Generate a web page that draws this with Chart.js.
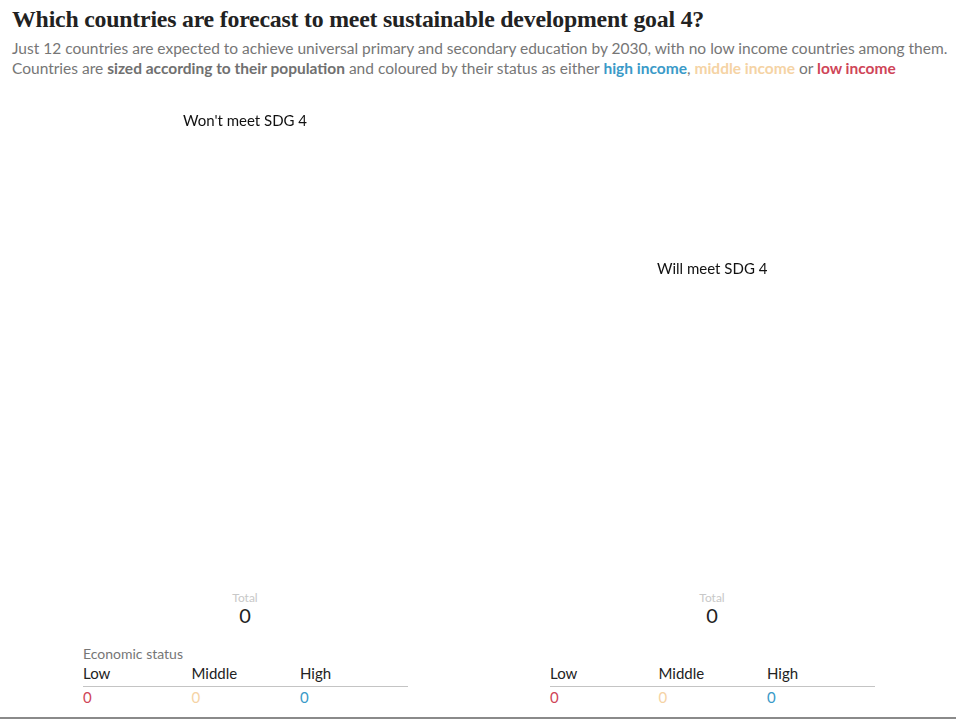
<!DOCTYPE html>
<html>
<head>
<meta charset="utf-8">
<script src="https://cdn.jsdelivr.net/npm/chart.js@4.4.0/dist/chart.umd.min.js"></script>
<style>
  html, body { margin: 0; padding: 0; background: #fff; }
  body { width: 956px; height: 720px; position: relative; overflow: hidden; font-family: Lato, "Noto Sans", sans-serif; }
  h1 { position: absolute; left: 12px; top: 6px; margin: 0; font-family: "Liberation Serif", serif; font-weight: bold; font-size: 23.8px; color: #222; white-space: nowrap; letter-spacing: -0.2px; }
  .sub { position: absolute; left: 12px; top: 38px; margin: 0; font-size: 15.5px; line-height: 20px; color: #767676; white-space: nowrap; }
  .sub b { font-weight: bold; color: #707070; }
  .hi { color: #3a9ac8; font-weight: bold; }
  .mid { color: #f5d3a4; font-weight: bold; }
  .lo { color: #cf4558; font-weight: bold; }
  #wrap { position: absolute; left: 0; top: 90px; width: 956px; height: 500px; }
  .abs { position: absolute; white-space: nowrap; }
  .grp { font-size: 15px; color: #111; }
  .tot { font-size: 12px; color: #c8c8c8; transform: translateX(-50%); }
  .totn { font-size: 20px; color: #222; transform: translateX(-50%); }
  .econ { font-size: 14px; color: #767676; }
  .lvl { font-size: 15px; color: #222; }
  .rule { position: absolute; height: 1px; background: #c4c4c4; }
  .cnt { font-size: 15px; }
  #bottom { position: absolute; left: 0; top: 717px; width: 956px; height: 2px; background: #8a8a8a; }
</style>
</head>
<body>
<h1>Which countries are forecast to meet sustainable development goal 4?</h1>
<p class="sub">Just 12 countries are expected to achieve universal primary and secondary education by 2030, with no low income countries among them.<br>Countries are <b>sized according to their population</b> and coloured by their status as either <span class="hi">high income</span>, <span class="mid">middle income</span> or <span class="lo">low income</span></p>
<div id="wrap"><canvas id="myChart"></canvas></div>
<div id="labels"></div>
<div id="bottom"></div>
<script>
// groups and income levels
const groups = ["Won't meet SDG 4", "Will meet SDG 4"];
const incomeLevels = ['Low', 'Middle', 'High'];
const incomeColours = ['#cf4558', '#f5d3a4', '#3a9ac8'];

// countries per group (none drawn in the picture)
const wontMeetCountries = [];
const willMeetCountries = [];

// counts per income level, per group
const wontMeetCounts = [0, 0, 0];
const willMeetCounts = [0, 0, 0];

var ctx = document.getElementById('myChart').getContext('2d');

const data = {
  datasets: incomeLevels.map((lvl, i) => ({
    label: lvl,
    data: wontMeetCountries.concat(willMeetCountries).filter(c => c.income === lvl),
    backgroundColor: incomeColours[i],
    borderWidth: 0
  }))
};

const config = {
  type: 'bubble',
  data: data,
  options: {
    responsive: true,
    maintainAspectRatio: false,
    animation: false,
    plugins: {
      legend: { display: false },
      tooltip: { enabled: false }
    },
    scales: {
      x: { display: false, min: 0, max: 2 },
      y: { display: false, min: 0, max: 1 }
    }
  }
};

var myChart = new Chart(ctx, config);

// text blocks under each group
const box = document.getElementById('labels');
function add(cls, text, x, y, colour) {
  const d = document.createElement('div');
  d.className = 'abs ' + cls;
  d.textContent = text;
  d.style.left = x + 'px';
  d.style.top = y + 'px';
  if (colour) d.style.color = colour;
  box.appendChild(d);
}
const groupSpots = [
  { lx: 183, ly: 111, cx: 245, left: 83, counts: wontMeetCounts, econ: true },
  { lx: 657, ly: 259, cx: 712, left: 550, counts: willMeetCounts, econ: false }
];
groupSpots.forEach((g, gi) => {
  add('grp', groups[gi], g.lx, g.ly);
  add('tot', 'Total', g.cx, 590);
  add('totn', String(g.counts.reduce((a, b) => a + b, 0)), g.cx, 603);
  if (g.econ) add('econ', 'Economic status', g.left, 645);
  incomeLevels.forEach((lvl, i) => {
    add('lvl', lvl, g.left + i * 108.5, 664);
    add('cnt', String(g.counts[i]), g.left + i * 108.5, 688, incomeColours[i]);
  });
  const r = document.createElement('div');
  r.className = 'rule';
  r.style.left = g.left + 'px';
  r.style.top = '686px';
  r.style.width = '325px';
  box.appendChild(r);
});
</script>
</body>
</html>
